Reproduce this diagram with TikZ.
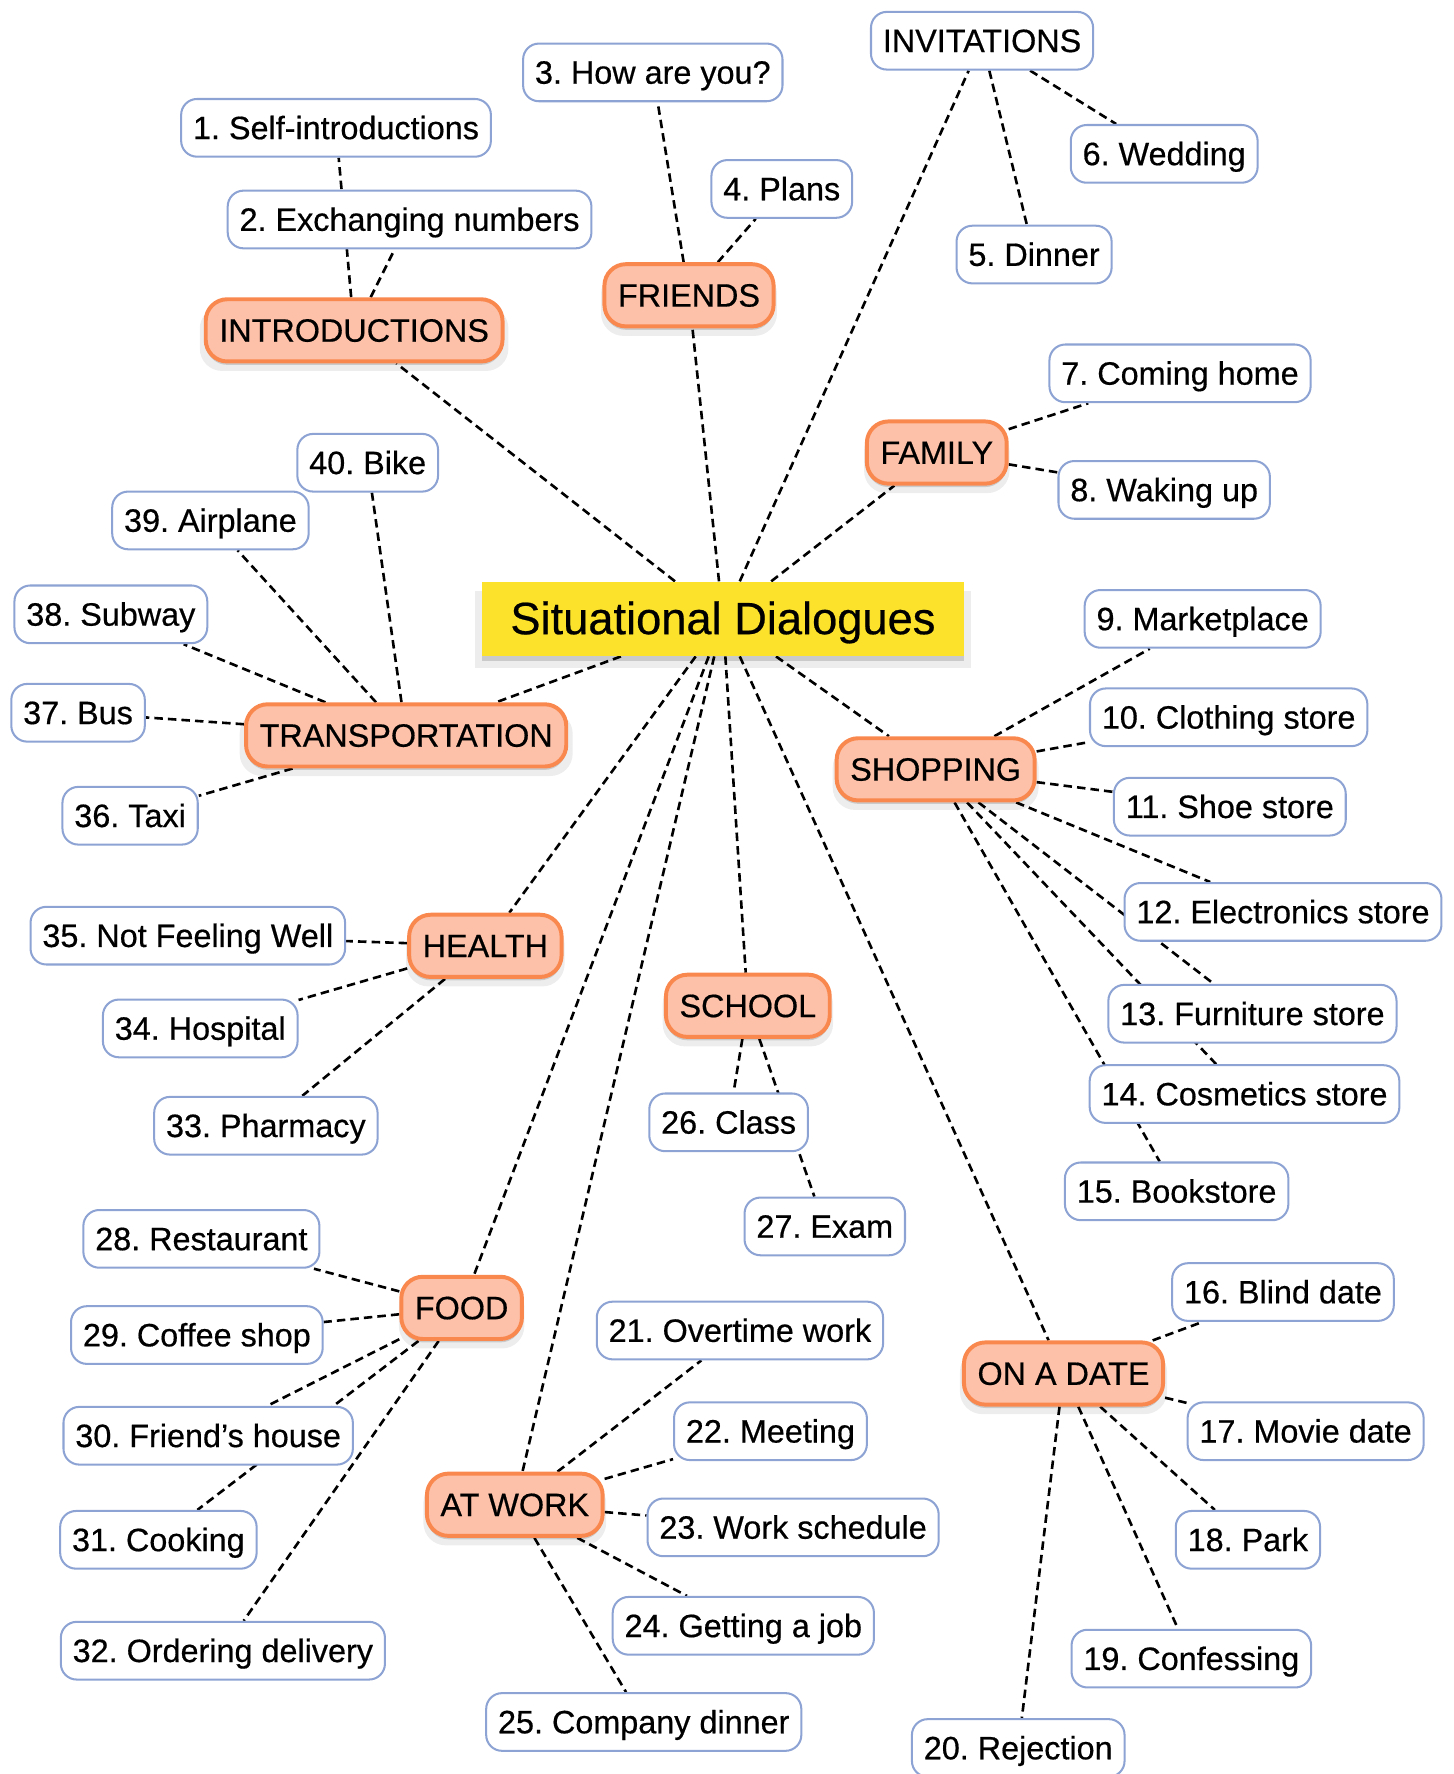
\documentclass[tikz,border=0pt]{standalone}
\usepackage{fontspec}
\setmainfont{Liberation Sans}[FakeBold=0.5]
\usetikzlibrary{shadows,backgrounds}
\definecolor{leafline}{HTML}{8DA3D3}
\definecolor{catfill}{HTML}{FDC0A8}
\definecolor{catline}{HTML}{F9884E}
\definecolor{titlefill}{HTML}{FCE22B}
\tikzset{
  leaf/.style={draw=leafline, line width=1.8pt, fill=white, rounded corners=14pt,
    minimum height=51pt, inner xsep=10.5pt, inner ysep=0pt, text height=20pt, text depth=0pt,
    font=\fontsize{28.6}{32}\selectfont\frenchspacing},
  cat/.style={draw=catline, line width=3.5pt, fill=catfill, rounded corners=19pt,
    minimum height=55pt, inner xsep=12pt, inner ysep=0pt, text height=20pt, text depth=0pt,
    font=\fontsize{28.6}{32}\selectfont\frenchspacing,
    drop shadow={shadow xshift=0pt, shadow yshift=-3pt, opacity=0.15, fill=black},
    drop shadow={shadow xshift=0pt, shadow yshift=-7pt, shadow scale=1.04, opacity=0.07, fill=black}},
  titlebox/.style={fill=titlefill, minimum height=66pt, inner xsep=25pt, inner ysep=0pt,
    text height=29pt, text depth=2pt, font=\fontsize{40}{46}\selectfont,
    drop shadow={shadow xshift=0pt, shadow yshift=-4pt, opacity=0.15, fill=black},
    drop shadow={shadow xshift=0pt, shadow yshift=-9pt, shadow scale=1.03, opacity=0.07, fill=black}},
  link/.style={draw=black, line width=2.3pt, dash pattern=on 7.5pt off 4.5pt}
}
\begin{document}
\begin{tikzpicture}[x=1pt,y=-1pt]
\useasboundingbox (0,0) rectangle (1285,1568);
% centre
\node[titlebox] (c) at (639,547) {Situational Dialogues};
% categories
\node[cat] (intro) at (313,292) {INTRODUCTIONS};
\node[cat] (friends) at (609,261) {FRIENDS};
\node[cat] (family) at (828,400) {FAMILY};
\node[cat] (trans) at (359,650) {TRANSPORTATION};
\node[cat] (shop) at (827,680) {SHOPPING};
\node[cat] (health) at (429,836) {HEALTH};
\node[cat] (school) at (661,889) {SCHOOL};
\node[cat] (food) at (408,1156) {FOOD};
\node[cat] (date) at (940,1214) {ON A DATE};
\node[cat] (work) at (455,1330) {AT WORK};
\node[leaf] (invit) at (868,36) {INVITATIONS};
% leaves
\node[leaf] (l1) at (297,113) {1. Self-introductions};
\node[leaf] (l2) at (362,194) {2. Exchanging numbers};
\node[leaf] (l3) at (577,64) {3. How are you?};
\node[leaf] (l4) at (691,167) {4. Plans};
\node[leaf] (l5) at (914,225) {5. Dinner};
\node[leaf] (l6) at (1029,136) {6. Wedding};
\node[leaf] (l7) at (1043,330) {7. Coming home};
\node[leaf] (l8) at (1029,433) {8. Waking up};
\node[leaf] (l9) at (1063,547) {9. Marketplace};
\node[leaf] (l10) at (1086,634) {10. Clothing store};
\node[leaf] (l11) at (1087,713) {11. Shoe store};
\node[leaf] (l12) at (1134,806) {12. Electronics store};
\node[leaf] (l13) at (1107,896) {13. Furniture store};
\node[leaf] (l14) at (1100,967) {14. Cosmetics store};
\node[leaf] (l15) at (1040,1053) {15. Bookstore};
\node[leaf] (l16) at (1134,1142) {16. Blind date};
\node[leaf] (l17) at (1154,1265) {17. Movie date};
\node[leaf] (l18) at (1103,1361) {18. Park};
\node[leaf] (l19) at (1053,1466) {19. Confessing};
\node[leaf] (l20) at (900,1545) {20. Rejection};
\node[leaf] (l21) at (654,1176) {21. Overtime work};
\node[leaf] (l22) at (681,1265) {22. Meeting};
\node[leaf] (l23) at (701,1350) {23. Work schedule};
\node[leaf] (l24) at (657,1437) {24. Getting a job};
\node[leaf] (l25) at (569,1522) {25. Company dinner};
\node[leaf] (l26) at (644,992) {26. Class};
\node[leaf] (l27) at (729,1084) {27. Exam};
\node[leaf] (l28) at (178,1095) {28. Restaurant};
\node[leaf] (l29) at (174,1180) {29. Coffee shop};
\node[leaf] (l30) at (184,1269) {30. Friend’s house};
\node[leaf] (l31) at (140,1361) {31. Cooking};
\node[leaf] (l32) at (197,1459) {32. Ordering delivery};
\node[leaf] (l33) at (235,995) {33. Pharmacy};
\node[leaf] (l34) at (177,909) {34. Hospital};
\node[leaf] (l35) at (166,827) {35. Not Feeling Well};
\node[leaf] (l36) at (115,721) {36. Taxi};
\node[leaf] (l37) at (69,630) {37. Bus};
\node[leaf] (l38) at (98,543) {38. Subway};
\node[leaf] (l39) at (186,460) {39. Airplane};
\node[leaf] (l40) at (325,409) {40. Bike};
% connectors
\begin{pgfonlayer}{background}
\foreach \t in {intro,friends,family,trans,shop,health,school,food,date,work,invit}
  \draw[link] (c) -- (\t);
\foreach \t in {l1,l2} \draw[link] (intro) -- (\t);
\foreach \t in {l3,l4} \draw[link] (friends) -- (\t);
\foreach \t in {l5,l6} \draw[link] (invit) -- (\t);
\foreach \t in {l7,l8} \draw[link] (family) -- (\t);
\foreach \t in {l9,l10,l11,l12,l13,l14,l15} \draw[link] (shop) -- (\t);
\foreach \t in {l16,l17,l18,l19,l20} \draw[link] (date) -- (\t);
\foreach \t in {l21,l22,l23,l24,l25} \draw[link] (work) -- (\t);
\foreach \t in {l26,l27} \draw[link] (school) -- (\t);
\foreach \t in {l28,l29,l30,l31,l32} \draw[link] (food) -- (\t);
\foreach \t in {l33,l34,l35} \draw[link] (health) -- (\t);
\foreach \t in {l36,l37,l38,l39,l40} \draw[link] (trans) -- (\t);
\end{pgfonlayer}
\end{tikzpicture}
\end{document}
